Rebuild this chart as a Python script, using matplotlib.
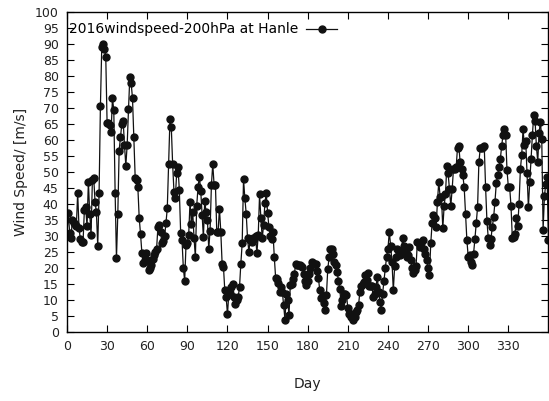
import numpy as np
import matplotlib
matplotlib.use("Agg")
import matplotlib.pyplot as plt

# daily 200 hPa wind speed at Hanle, 2016
day = np.arange(0, 361)

seg_jan_feb = [30.6, 37.3, 31, 29.3, 35, 34, 33.8, 33, 43.6, 32.5,
               29, 28.2, 28, 38, 39, 33, 47, 37, 30.3, 47.5,
               48, 40.7, 37.4, 26.9, 43.3, 70.6, 89, 90, 88.5, 86,
               65.2, 65.2, 64.6, 62.6, 73, 69.4, 43.6, 23, 36.8, 56.7,
               60.8, 65, 66, 58.4, 52, 58.4, 69.6, 79.8, 77.7, 73,
               61, 48.2, 47.5, 45.2, 35.7, 30.6, 24.8, 21.5, 22.5, 24.8]
seg_mar_apr = [22.5, 19.4, 20, 21, 22.8, 24, 25, 26, 32.8, 33.4,
               31.3, 27.8, 28.3, 30, 34, 38.7, 52.5, 66.5, 64, 52.5,
               43.8, 41.8, 49.6, 51.7, 44.4, 31, 28.8, 20, 16, 27.2,
               27.8, 30.3, 40.7, 33.8, 37.6, 29.4, 23.4, 39.4, 45.4, 48.5,
               44.2, 36.6, 29.6, 41, 37.6, 35, 26, 31.7, 46, 52.5,
               46, 46, 31.4, 31.4, 38.6, 31.4, 21.4, 20.4, 13, 11,
               5.5, 12]
seg_may_jun = [12, 14, 15, 11, 8.7, 10, 11, 14, 21.4, 27.7,
               47.7, 41.8, 37, 29.3, 25.1, 28.8, 28, 29.3, 29, 30,
               24.6, 30.3, 43, 35.5, 29.3, 33.4, 40.4, 43.3, 37.3, 32.9,
               30, 29, 31.4, 23.5, 17, 16.7, 15.2, 12.6, 14, 12.6,
               8.4, 3.8, 12, 10, 5.3, 14.7, 15, 16.5, 18, 21.4,
               21, 21, 21, 20.5, 20.4, 18, 16, 14.7, 16, 18,
               20, 22, 21.5, 21.4, 21.4, 19]
seg_jul_aug = [17, 13, 10.5, 11, 9, 6.9, 11.6, 19.7, 23.3, 26,
               26, 24.5, 22, 21, 18.8, 16, 13.6, 8, 10, 11.8,
               12, 11.6, 7.4, 5.5, 4.8, 5.6, 3.8, 4.8, 6.2, 7,
               8.4, 12.6, 14.3, 15, 15.7, 17.8, 16.4, 18.3, 14.3, 14.3,
               14.3, 11, 11.9, 14, 17.3, 12.6, 9.5, 6.9, 12, 16,
               19.9, 23.5, 26, 31.3, 27, 22, 13, 20.5, 23.3, 26,
               25, 24, 25.4, 29.3]
seg_sep_oct = [27, 24.6, 23.5, 24, 26.7, 22.5, 20, 18.5, 19.5, 20.5,
               28.2, 27.8, 26.7, 27.8, 28.8, 26, 24.5, 22.5, 20, 17.8,
               27.7, 34, 36.6, 35.7, 32.9, 40.7, 47, 42.3, 42.3, 32.4,
               39.4, 43, 52, 49.6, 44.7, 39.4, 44.7, 51, 51, 51.5,
               57.6, 58, 53, 51, 49, 45.2, 37, 28.8, 23.5, 24,
               22, 21, 24.5, 29, 34, 39, 53.2]
seg_nov_dec = [57.4, 57.6, 57.8, 58, 45.2, 34.8, 29.3, 27.3, 29, 32.9,
               35.8, 40.7, 46.5, 49, 51.5, 54, 58, 61.6, 63.3, 61.6,
               50.6, 45.4, 45.2, 39.4, 29.3, 29.8, 30.6, 35.5, 33, 40,
               50.8, 55.3, 63.3, 58.4, 59.8, 49.8, 39, 47, 54, 61.6,
               67.8, 66, 58, 53.2, 62.3, 65.7, 60.2, 32, 42.5, 46.2,
               48.5, 28.8, 25.4]

speed = np.array(seg_jan_feb + seg_mar_apr + seg_may_jun
                 + seg_jul_aug + seg_sep_oct + seg_nov_dec)
n = min(len(day), len(speed))
day, speed = day[:n], speed[:n]

plt.rcParams["font.family"] = ["DejaVu Sans"]

fig = plt.figure(figsize=(5.49, 4.01), dpi=100)
ax = fig.add_axes([0.122, 0.172, 0.877, 0.798])

ax.plot(day, speed, "-o", color="#111111", lw=0.9, ms=5.0,
        label="2016windspeed-200hPa at Hanle")

ax.set_xlim(0, 360)
ax.set_ylim(0, 100)
ax.set_xticks(np.arange(0, 331, 30))
ax.set_yticks(np.arange(0, 101, 5))
ax.tick_params(direction="in", top=True, right=True, length=5,
               width=0.8, labelsize=9, pad=6, labelcolor="#222222")
for s in ax.spines.values():
    s.set_linewidth(1.0)

ax.set_xlabel("Day", fontsize=10, labelpad=17, color="#222222")
ax.set_ylabel("Wind Speed/ [m/s]", fontsize=10, labelpad=5, color="#222222")

ax.legend(loc="upper left", bbox_to_anchor=(-0.008, 0.985), frameon=False,
          markerfirst=False, fontsize=10, handlelength=2.2,
          borderaxespad=0.0, handletextpad=0.6)

fig.savefig("out.png", dpi=100)
